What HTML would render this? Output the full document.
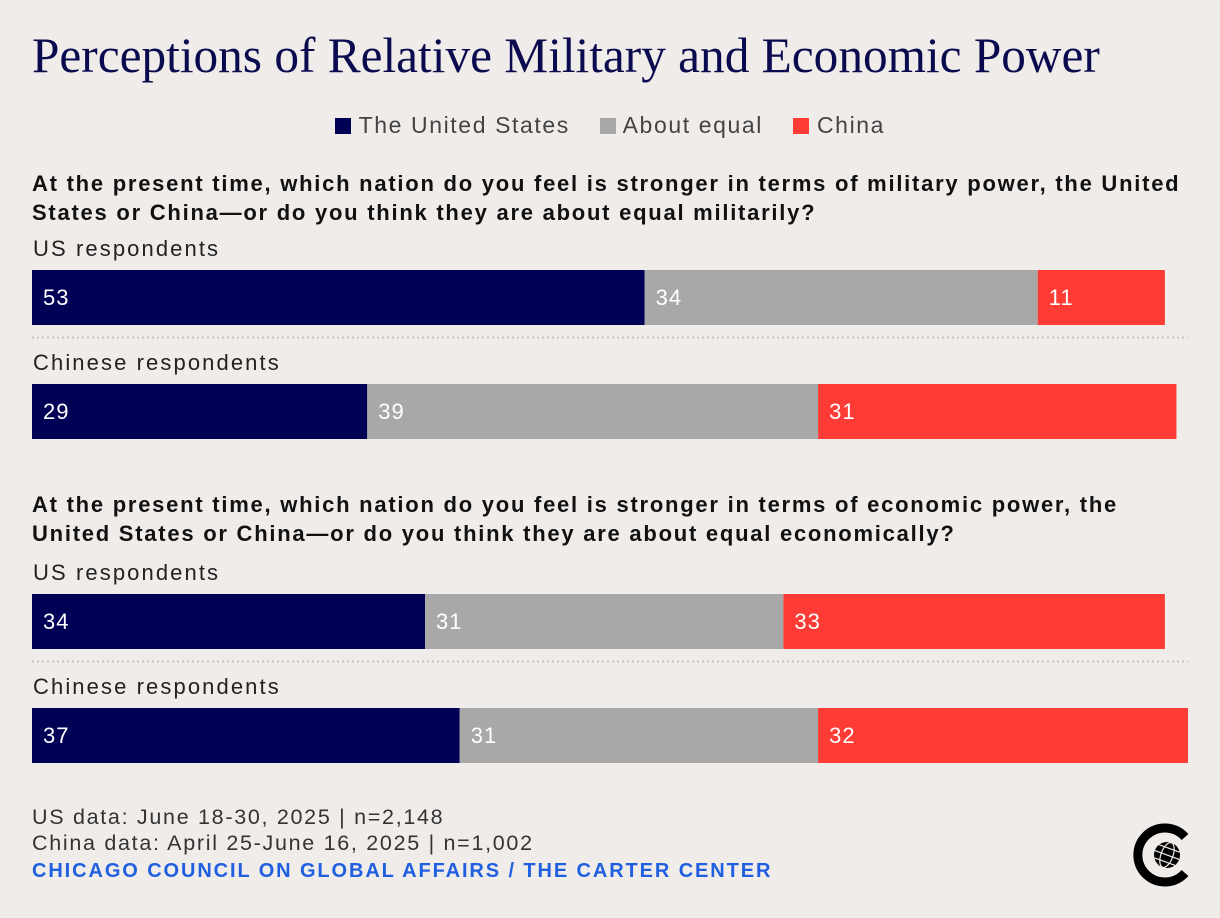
<!DOCTYPE html>
<html><head><meta charset="utf-8"><style>
body{margin:0;background:#f0ecea;width:1220px;height:918px;overflow:hidden;font-family:"Liberation Sans",sans-serif;position:relative}
.t{position:absolute;white-space:nowrap}
</style></head><body>
<div class="t" style="left:32px;top:27px;font-family:'Liberation Serif',serif;font-size:49.3px;color:#0a0a4f;letter-spacing:0px">Perceptions of Relative Military and Economic Power</div>
<div class="t" style="left:335px;top:112px;font-size:23px;color:#444;letter-spacing:1.6px">
<span><span style="display:inline-block;width:16px;height:16px;background:#000055;vertical-align:-1px"></span> The United States</span>
<span style="margin-left:22px"><span style="display:inline-block;width:16px;height:16px;background:#a8a8a8;vertical-align:-1px"></span> About equal</span>
<span style="margin-left:22px"><span style="display:inline-block;width:16px;height:16px;background:#ff3b36;vertical-align:-1px"></span> China</span>
</div>
<div class="t" style="left:32px;top:169px;font-size:22px;font-weight:bold;color:#111;line-height:29px;letter-spacing:1.75px">At the present time, which nation do you feel is stronger in terms of military power, the United<br>States or China—or do you think they are about equal militarily?</div>
<div class="t" style="left:32px;top:490px;font-size:22px;font-weight:bold;color:#111;line-height:29px;letter-spacing:1.75px">At the present time, which nation do you feel is stronger in terms of economic power, the<br>United States or China—or do you think they are about equal economically?</div>
<svg id="chart" width="1220" height="918" style="position:absolute;left:0;top:0"></svg>
<div class="t" style="left:32px;top:804px;font-size:21.5px;color:#333;line-height:26px;letter-spacing:1.7px">US data: June 18-30, 2025 | n=2,148<br>China data: April 25-June 16, 2025 | n=1,002</div>
<div class="t" style="left:32px;top:860px;font-size:20px;font-weight:bold;color:#1f5fe0;letter-spacing:1.9px">CHICAGO COUNCIL ON GLOBAL AFFAIRS / THE CARTER CENTER</div>
<svg width="70" height="70" viewBox="0 0 70 70" style="position:absolute;left:1127px;top:820px">
<path d="M58 17 A27 27 0 1 0 58 53" fill="none" stroke="#000" stroke-width="9"/>
<circle cx="40" cy="35" r="13" fill="#000"/>
<g fill="none" stroke="#f0ecea" stroke-width="1.2"><ellipse cx="40" cy="35" rx="6" ry="13" transform="rotate(20 40 35)"/><line x1="27" y1="35" x2="53" y2="35" transform="rotate(20 40 35)"/><line x1="29" y1="28" x2="51" y2="28" transform="rotate(20 40 35)"/><line x1="29" y1="42" x2="51" y2="42" transform="rotate(20 40 35)"/></g>
</svg>
<script>
const rows=["US respondents","Chinese respondents","US respondents","Chinese respondents"];
const usVals=[53,29,34,37];
const equalVals=[34,39,31,31];
const chinaVals=[11,31,33,32];
const rowTops=[270,384,594,708];
const svg=document.getElementById('chart');
const NS='http://www.w3.org/2000/svg';
const x=v=>32+v*11.56;
const cols=['#000055','#a8a8a8','#ff3b36'];
const names=['us','equal','china'];
rows.forEach((r,i)=>{
 const y=rowTops[i];
 const lab=document.createElementNS(NS,'text');
 
 
 lab.setAttribute('x',33);lab.setAttribute('y',y-14);
 lab.setAttribute('font-size','22');lab.setAttribute('fill','#222');
 lab.setAttribute('letter-spacing','2.1');
 lab.textContent=r;svg.appendChild(lab);
 const vals=[usVals[i],equalVals[i],chinaVals[i]];
 let acc=0;
 vals.forEach((v,k)=>{
  const rc=document.createElementNS(NS,'rect');
  
  
  rc.setAttribute('x',x(acc));rc.setAttribute('y',y);
  rc.setAttribute('width',x(acc+v)-x(acc));rc.setAttribute('height',55);
  rc.setAttribute('fill',cols[k]);svg.appendChild(rc);
  const t=document.createElementNS(NS,'text');
  
  
  t.setAttribute('x',x(acc)+11);t.setAttribute('y',y+35);
  t.setAttribute('font-size','22');t.setAttribute('fill','#fff');
  t.setAttribute('letter-spacing','1');
  t.textContent=v;svg.appendChild(t);
  acc+=v;
 });
 if(i%2===0){
  const ln=document.createElementNS(NS,'line');
  
  
  ln.setAttribute('x1',32);ln.setAttribute('x2',1188);
  ln.setAttribute('y1',y+67.5);ln.setAttribute('y2',y+67.5);
  ln.setAttribute('stroke','#c8c4c2');ln.setAttribute('stroke-width','2');
  ln.setAttribute('stroke-dasharray','2 3');svg.appendChild(ln);
 }
});
</script>
</body></html>
